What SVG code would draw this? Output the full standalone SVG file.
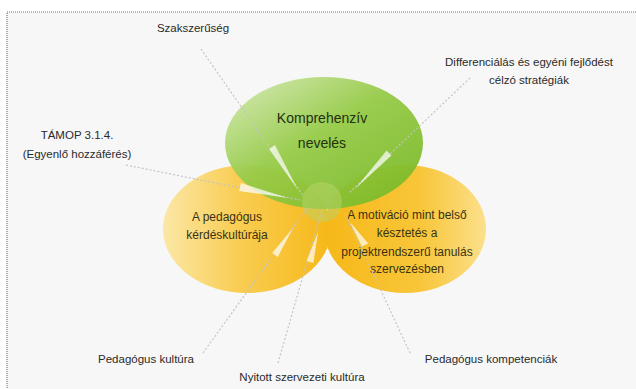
<svg xmlns="http://www.w3.org/2000/svg" width="636" height="389" viewBox="0 0 636 389">
<defs>
<style>
.lbl{font-family:"Liberation Sans",Arial,sans-serif;font-size:11.5px;fill:#2a2a2a;text-anchor:middle}
.in{font-family:"Liberation Sans",Arial,sans-serif;font-size:12px;fill:#3a3212;text-anchor:middle}
.big{font-size:14px;fill:#24300e}
.ray{stroke:#c4c4c4;stroke-width:1.2;stroke-dasharray:2 2;fill:none}
.wedge{fill:#ffffff;opacity:0.7}
</style>
<linearGradient id="gGreen" x1="0.1" y1="0.1" x2="0.85" y2="0.9">
<stop offset="0" stop-color="#c9e4a0"/>
<stop offset="0.45" stop-color="#96cb48"/>
<stop offset="1" stop-color="#7dbb2a"/>
</linearGradient>
<linearGradient id="gOrL" x1="0" y1="0" x2="1" y2="0">
<stop offset="0" stop-color="#fbe7a6"/>
<stop offset="0.45" stop-color="#f9cd52"/>
<stop offset="1" stop-color="#f6b818"/>
</linearGradient>
<linearGradient id="gOrR" x1="0" y1="0" x2="1" y2="0">
<stop offset="0" stop-color="#f6b818"/>
<stop offset="0.6" stop-color="#f8c63a"/>
<stop offset="1" stop-color="#fbe08c"/>
</linearGradient>
</defs>
<rect x="7" y="12" width="640" height="390" fill="#f7f7f7" stroke="#777" stroke-width="1.2" stroke-dasharray="1 1"/>
<g id="node-left">
<ellipse cx="247" cy="229" rx="84" ry="64" fill="url(#gOrL)"/>
<text class="in" x="227" y="221">A pedagógus</text>
<text class="in" x="227" y="239">kérdéskultúrája</text>
</g>
<g id="node-right">
<ellipse cx="405" cy="229" rx="81" ry="64" fill="url(#gOrR)"/>
<text class="in" x="407" y="219">A motiváció mint belső</text>
<text class="in" x="407" y="237">késztetés a</text>
<text class="in" x="407" y="256">projektrendszerű tanulás</text>
<text class="in" x="407" y="273">szervezésben</text>
</g>
<g id="node-top">
<ellipse cx="324" cy="143" rx="99" ry="66" fill="url(#gGreen)" opacity="0.95"/>
<text class="in big" x="322" y="123">Komprehenzív</text>
<text class="in big" x="322" y="148">nevelés</text>
<circle cx="322" cy="202" r="20" fill="#b9d36c" opacity="0.5"/>
</g>
<g id="connectors">
<line class="ray" x1="201" y1="49" x2="304" y2="197"/>
<line class="ray" x1="470" y1="78" x2="349" y2="193"/>
<line class="ray" x1="126" y1="165" x2="300" y2="200"/>
<line class="ray" x1="203" y1="353" x2="308" y2="207"/>
<line class="ray" x1="278" y1="363" x2="322" y2="210"/>
<line class="ray" x1="410" y1="353" x2="345" y2="213"/>
<polygon class="wedge" points="269.1,149 274.9,145 298,190"/>
<polygon class="wedge" points="391.4,155.5 386.6,150.5 355,189"/>
<polygon class="wedge" points="239.2,191 240.8,183 288,198"/>
<polygon class="wedge" points="277.8,257 272.2,253 293,228"/>
<polygon class="wedge" points="313.4,263 306.6,261 318,232"/>
<polygon class="wedge" points="368.2,243.5 361.8,246.5 350,222"/>
</g>
<g id="label-top"><text class="lbl" x="193" y="32">Szakszerűség</text></g>
<g id="label-topright">
<text class="lbl" x="529" y="66">Differenciálás és egyéni fejlődést</text>
<text class="lbl" x="529" y="84">célzó stratégiák</text>
</g>
<g id="label-left">
<text class="lbl" x="77" y="139">TÁMOP 3.1.4.</text>
<text class="lbl" x="77" y="158">(Egyenlő hozzáférés)</text>
</g>
<g id="label-bl"><text class="lbl" x="146" y="363">Pedagógus kultúra</text></g>
<g id="label-bc"><text class="lbl" x="302" y="381">Nyitott szervezeti kultúra</text></g>
<g id="label-br"><text class="lbl" x="491" y="363">Pedagógus kompetenciák</text></g>
</svg>
